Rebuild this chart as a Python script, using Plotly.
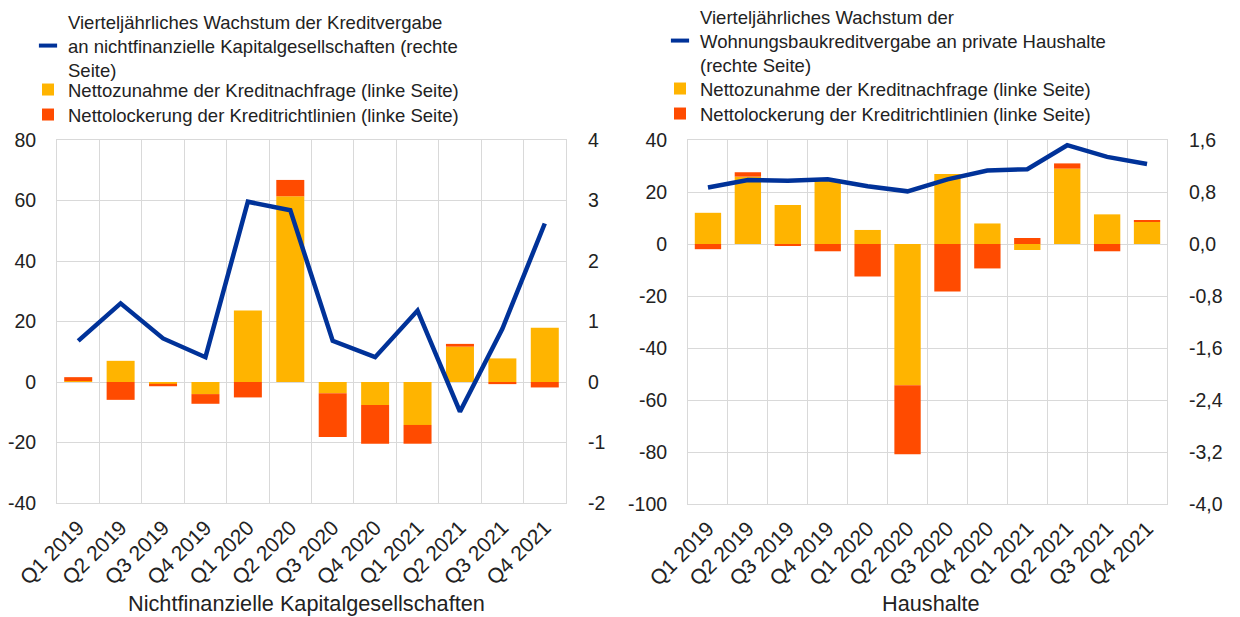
import plotly.graph_objects as go

# ---- data ----
quarters = ["Q1 2019", "Q2 2019", "Q3 2019", "Q4 2019", "Q1 2020", "Q2 2020",
            "Q3 2020", "Q4 2020", "Q1 2021", "Q2 2021", "Q3 2021", "Q4 2021"]

# Non-financial corporations
nfc_demand = [0.3, 7.0, -0.6, -4.0, 23.6, 61.4, -3.7, -7.6, -14.2, 11.7, 7.8, 17.9]
nfc_easing = [1.3, -5.9, -0.8, -3.2, -5.1, 5.4, -14.5, -12.8, -6.2, 0.9, -0.7, -1.8]
nfc_growth = [0.68, 1.30, 0.72, 0.41, 2.98, 2.84, 0.68, 0.41, 1.18, -0.49, 0.88, 2.62]

# Households
hh_demand = [12.0, 25.9, 15.0, 24.6, 5.4, -54.3, 26.9, 7.9, -2.3, 29.0, 11.4, 8.5]
hh_easing = [-2.0, 1.7, -0.6, -2.8, -12.5, -26.6, -18.3, -9.4, 2.3, 2.0, -2.8, 0.6]
hh_growth = [0.87, 0.985, 0.975, 0.995, 0.89, 0.81, 0.995, 1.13, 1.15, 1.52, 1.34, 1.23]

# tick labels
nfc_left_vals = [-40, -20, 0, 20, 40, 60, 80]
nfc_left_text = ["-40", "-20", "0", "20", "40", "60", "80"]
nfc_right_vals = [-2, -1, 0, 1, 2, 3, 4]
nfc_right_text = ["-2", "-1", "0", "1", "2", "3", "4"]
hh_left_vals = [-100, -80, -60, -40, -20, 0, 20, 40]
hh_left_text = ["-100", "-80", "-60", "-40", "-20", "0", "20", "40"]
hh_right_vals = [-4.0, -3.2, -2.4, -1.6, -0.8, 0.0, 0.8, 1.6]
hh_right_text = ["-4,0", "-3,2", "-2,4", "-1,6", "-0,8", "0,0", "0,8", "1,6"]

# legend texts
nfc_line_name = "Vierteljährliches Wachstum der Kreditvergabe<br>an nichtfinanzielle Kapitalgesellschaften (rechte<br>Seite)"
hh_line_name = "Vierteljährliches Wachstum der<br>Wohnungsbaukreditvergabe an private Haushalte<br>(rechte Seite)"
demand_name = "Nettozunahme der Kreditnachfrage (linke Seite)"
easing_name = "Nettolockerung der Kreditrichtlinien (linke Seite)"
nfc_title = "Nichtfinanzielle Kapitalgesellschaften"
hh_title = "Haushalte"

# ---- styles ----
BLUE = "#003299"
YELLOW = "#FFB400"
ORANGE = "#FF4B00"
GRID = "#d9d9d9"
TXT = "#222222"
FONT = "Liberation Sans, Arial, sans-serif"
FS_LEG = 18.5
FS_TICK = 19.5
FS_XTICK = 21
FS_TITLE = 21.7

# page places the figure 8px from the top-left corner (body margin)
OFF = 8
W, H = 1240 - OFF, 617 - OFF


def px_x(p):
    return (p - OFF) / W


def px_y(p):
    return 1 - (p - OFF) / H


fig = go.Figure()

panels = [
    ("x", "y", "y2", nfc_demand, nfc_easing, nfc_growth, nfc_line_name,
     ["legend", "legend3", "legend5"]),
    ("x2", "y3", "y4", hh_demand, hh_easing, hh_growth, hh_line_name,
     ["legend2", "legend4", "legend6"]),
]

for xa, ya, yb, dem, eas, gro, lname, lgs in panels:
    # legend-only entry for the line (short dash symbol)
    fig.add_trace(go.Scatter(
        x=[None], y=[None], xaxis=xa, yaxis=yb, mode="markers", name=lname,
        marker=dict(symbol="line-ew", size=13, color=BLUE, line=dict(color=BLUE, width=4)),
        legend=lgs[0], showlegend=True, hoverinfo="skip"))
    fig.add_trace(go.Bar(
        x=quarters, y=dem, xaxis=xa, yaxis=ya, name=demand_name,
        marker=dict(color=YELLOW, line=dict(width=0)), legend=lgs[1]))
    fig.add_trace(go.Bar(
        x=quarters, y=eas, xaxis=xa, yaxis=ya, name=easing_name,
        marker=dict(color=ORANGE, line=dict(width=0)), legend=lgs[2]))
    fig.add_trace(go.Scatter(
        x=quarters, y=gro, xaxis=xa, yaxis=yb, mode="lines", name=lname,
        line=dict(color=BLUE, width=4.5), showlegend=False))

tf = dict(family=FONT, size=FS_TICK, color=TXT)
xcommon = dict(type="category", tickson="boundaries", showgrid=True, gridcolor=GRID,
               gridwidth=1, showline=True, linecolor=GRID, linewidth=1, mirror=True,
               tickangle=-45, ticks="", automargin=False, ticklabelstandoff=3,
               tickfont=dict(family=FONT, size=FS_XTICK, color=TXT), zeroline=False,
               categoryorder="array", categoryarray=quarters)
ycommon = dict(showgrid=True, gridcolor=GRID, gridwidth=1, zeroline=False,
               showline=True, linecolor=GRID, linewidth=1, mirror=True,
               ticks="outside", ticklen=16, tickcolor="rgba(0,0,0,0)",
               automargin=False, tickfont=tf)
yright = dict(showgrid=False, zeroline=False, showline=False,
              ticks="outside", ticklen=17, tickcolor="rgba(0,0,0,0)",
              automargin=False, tickfont=tf, side="right")

ydom_l = [px_y(503), px_y(140)]
ydom_r = [px_y(504), px_y(140)]


def leg(x_text_px, first_line_px):
    return dict(x=px_x(x_text_px - 40), y=px_y(first_line_px - 19),
                xanchor="left", yanchor="top", bgcolor="rgba(0,0,0,0)",
                font=dict(family=FONT, size=FS_LEG, color=TXT), valign="middle")


fig.update_layout(
    width=W, height=H,
    margin=dict(l=0, r=0, t=0, b=0, autoexpand=False),
    paper_bgcolor="white", plot_bgcolor="white",
    barmode="relative", bargap=0.34,
    font=dict(family=FONT, size=FS_LEG, color=TXT),
    xaxis=dict(domain=[px_x(57), px_x(566)], anchor="y", **xcommon),
    yaxis=dict(domain=ydom_l, anchor="x", range=[-40, 80],
               tickvals=nfc_left_vals, ticktext=nfc_left_text, **ycommon),
    yaxis2=dict(overlaying="y", anchor="x", range=[-2, 4],
                tickvals=nfc_right_vals, ticktext=nfc_right_text, **yright),
    xaxis2=dict(domain=[px_x(688), px_x(1167)], anchor="y3", **xcommon),
    yaxis3=dict(domain=ydom_r, anchor="x2", range=[-100, 40],
                tickvals=hh_left_vals, ticktext=hh_left_text, **ycommon),
    yaxis4=dict(overlaying="y3", anchor="x2", range=[-4.0, 1.6],
                tickvals=hh_right_vals, ticktext=hh_right_text, **yright),
    legend=leg(68, 22),
    legend3=leg(68, 90),
    legend5=leg(68, 115),
    legend2=leg(700, 17),
    legend4=leg(700, 89),
    legend6=leg(700, 114),
    annotations=[
        dict(text=nfc_title, x=px_x(306), y=px_y(603),
             xref="paper", yref="paper", xanchor="center", yanchor="middle",
             showarrow=False, font=dict(family=FONT, size=FS_TITLE, color=TXT)),
        dict(text=hh_title, x=px_x(931), y=px_y(603),
             xref="paper", yref="paper", xanchor="center", yanchor="middle",
             showarrow=False, font=dict(family=FONT, size=FS_TITLE, color=TXT)),
    ],
)

fig.write_html("out.html")
